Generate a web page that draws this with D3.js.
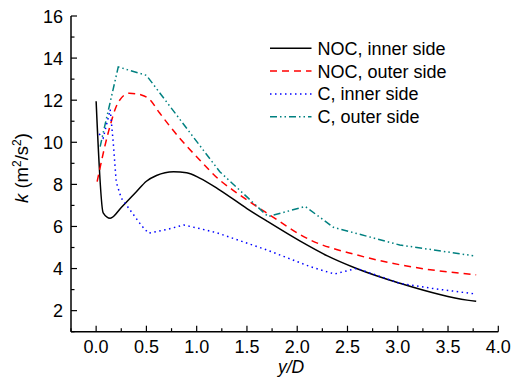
<!DOCTYPE html>
<html><head><meta charset="utf-8">
<script src="https://cdn.jsdelivr.net/npm/d3@7/dist/d3.min.js"></script>
<style>body{margin:0;background:#fff}svg{display:block}text{font-family:"Liberation Sans",Arial,sans-serif;fill:#000}</style>
</head><body><svg id="c" width="512" height="378"></svg>
<script>
const seriesNames = ["NOC, inner side","NOC, outer side","C, inner side","C, outer side"];
const nocInner = [[0,11.95],[0.07,6.65],[0.14,6.39],[0.25,6.9],[0.4,7.65],[0.5,8.15],[0.6,8.42],[0.77,8.6],[0.9,8.55],[1.03,8.3],[1.23,7.73],[1.5,6.85],[1.7,6.25],[2.03,5.3],[2.3,4.6],[2.59,4.0],[3.02,3.3],[3.69,2.5],[3.78,2.45]];
const nocOuter = [[0.01,8.13],[0.12,10.45],[0.22,11.9],[0.33,12.33],[0.45,12.25],[0.53,12.05],[0.63,11.4],[0.83,10.2],[1.03,9.16],[1.23,8.2],[1.36,7.73],[1.7,6.63],[2.13,5.36],[2.59,4.65],[3.09,4.12],[3.78,3.7]];
const cInner = [[0.03,10.4],[0.07,10.2],[0.14,11.55],[0.17,10.0],[0.2,8.1],[0.25,7.35],[0.35,6.7],[0.45,6.05],[0.52,5.68],[0.7,5.85],[0.87,6.07],[1.03,5.9],[1.2,5.7],[1.7,4.88],[2.13,4.09],[2.37,3.74],[2.59,4.01],[3.02,3.3],[3.35,3.05],[3.78,2.79]];
const cOuter = [[0.04,9.79],[0.07,10.45],[0.22,13.58],[0.5,13.18],[1.03,9.85],[1.23,8.6],[1.71,6.47],[2.08,6.95],[2.36,5.96],[3.02,5.12],[3.75,4.61]];
const xTicks = [0,0.5,1,1.5,2,2.5,3,3.5,4];
const yTicks = [2,4,6,8,10,12,14,16];

const svg = d3.select("#c");
const x = d3.scaleLinear().domain([-0.25,4]).range([71,498.3]);
const y = d3.scaleLinear().domain([1,16]).range([331.7,16]);
const FS = 18;

// axes
const gx = svg.append("g").attr("transform","translate(0,331.7)");
gx.append("line").attr("x1",71).attr("x2",498.3).attr("stroke","#000").attr("stroke-width",1.5);
gx.selectAll(".mt").data(d3.range(-0.25,4.01,0.25)).join("line")
  .attr("x1",d=>x(d)).attr("x2",d=>x(d)).attr("y1",0)
  .attr("y2",d=>Math.abs(d*2-Math.round(d*2))<1e-6?-6:-3.5).attr("stroke","#000").attr("stroke-width",1.2);
gx.selectAll("text").data(xTicks).join("text").attr("x",d=>x(d)).attr("y",21)
  .attr("text-anchor","middle").attr("font-size",FS).text(d=>d3.format(".1f")(d));

const gy = svg.append("g");
gy.append("line").attr("x1",71).attr("x2",71).attr("y1",16).attr("y2",331.7).attr("stroke","#000").attr("stroke-width",1.5);
gy.selectAll("line.t").data(d3.range(1,16.01,1)).join("line").attr("class","t")
  .attr("x1",71).attr("x2",d=>d%2===0?77:74.5).attr("y1",d=>y(d)).attr("y2",d=>y(d)).attr("stroke","#000").attr("stroke-width",1.2);
gy.selectAll("text").data(yTicks).join("text").attr("x",63).attr("y",d=>y(d)+6.5)
  .attr("text-anchor","end").attr("font-size",FS).text(d=>d);

// axis titles
const yl = svg.append("text").attr("transform","translate(28,168) rotate(-90)").attr("text-anchor","middle").attr("font-size",18.5);
yl.append("tspan").attr("font-style","italic").text("k");
yl.append("tspan").text(" (m");
yl.append("tspan").attr("font-size",12).attr("dy",-7).text("2");
yl.append("tspan").attr("dy",7).text("/s");
yl.append("tspan").attr("font-size",12).attr("dy",-7).text("2");
yl.append("tspan").attr("dy",7).text(")");
svg.append("text").attr("x",291).attr("y",373).attr("text-anchor","middle").attr("font-size",17.5)
  .attr("font-style","italic").text("y/D");

// series
const styles = [
  {data:nocInner,color:"#000000",dash:null,curve:d3.curveMonotoneX},
  {data:nocOuter,color:"#ff0000",dash:"7,5",curve:d3.curveMonotoneX},
  {data:cInner,color:"#0000ff",dash:"1.5,3.5",curve:d3.curveLinear},
  {data:cOuter,color:"#008080",dash:"7,3,1.5,3,1.5,3",curve:d3.curveLinear}
];
styles.forEach(s=>{
  const line = d3.line().x(d=>x(d[0])).y(d=>y(d[1])).curve(s.curve);
  svg.append("path").attr("d",line(s.data)).attr("fill","none").attr("stroke",s.color)
    .attr("stroke-width",1.5).attr("stroke-dasharray",s.dash);
});

// legend
const lg = svg.append("g");
seriesNames.forEach((n,i)=>{
  const yy = 48.3 + i*22.8;
  lg.append("line").attr("x1",270).attr("x2",311.5).attr("y1",yy).attr("y2",yy)
    .attr("stroke",styles[i].color).attr("stroke-width",1.5).attr("stroke-dasharray",styles[i].dash);
  lg.append("text").attr("x",317.5).attr("y",yy+6.5).attr("font-size",FS).text(n);
});
</script></body></html>
